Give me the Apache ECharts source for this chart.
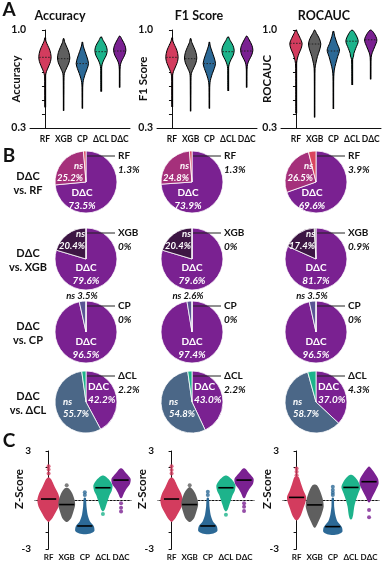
<!DOCTYPE html>
<html>
<head>
<meta charset="utf-8">
<script src="https://cdn.jsdelivr.net/npm/echarts@6.0.0/dist/echarts.min.js"></script>
<style>
  html, body { margin: 0; padding: 0; background: #fff; }
  #chart { width: 386px; height: 565px; }
</style>
</head>
<body>
<div id="chart"></div>
<script>
const CATS = ['RF', 'XGB', 'CP', 'ΔCL', 'DΔC'];
const COLORS = ['#d33c5e', '#5f5f5f', '#2c6996', '#1db38b', '#7a2191'];
const METRICS = ['Accuracy', 'F1 Score', 'ROCAUC'];

// A: violin outlines, [score, relative density] from top to bottom
const accProfiles = [
  [[0.945, 0], [0.92, 0.15], [0.89, 0.45], [0.855, 0.8], [0.81, 1], [0.775, 0.9], [0.745, 0.65], [0.715, 0.35], [0.69, 0.15], [0.665, 0.05], [0.6, 0.03], [0.448, 0]],
  [[0.94, 0], [0.91, 0.2], [0.875, 0.55], [0.84, 0.85], [0.8, 1], [0.765, 0.85], [0.735, 0.55], [0.71, 0.3], [0.69, 0.12], [0.66, 0.05], [0.55, 0.03], [0.424, 0]],
  [[0.915, 0], [0.885, 0.15], [0.845, 0.45], [0.8, 0.8], [0.76, 1], [0.725, 0.8], [0.69, 0.5], [0.655, 0.25], [0.625, 0.1], [0.59, 0.04], [0.52, 0.03], [0.44, 0]],
  [[0.952, 0], [0.925, 0.35], [0.89, 0.8], [0.855, 1], [0.82, 0.85], [0.79, 0.5], [0.765, 0.25], [0.74, 0.1], [0.71, 0.04], [0.65, 0.03], [0.56, 0]],
  [[0.957, 0], [0.93, 0.4], [0.89, 0.85], [0.855, 1], [0.82, 0.8], [0.79, 0.45], [0.765, 0.2], [0.74, 0.08], [0.7, 0.03], [0.59, 0]]
];
const f1Profiles = [
  [[0.945, 0], [0.92, 0.15], [0.89, 0.45], [0.855, 0.8], [0.81, 1], [0.775, 0.9], [0.745, 0.65], [0.715, 0.35], [0.69, 0.15], [0.665, 0.05], [0.6, 0.03], [0.45, 0]],
  [[0.94, 0], [0.91, 0.2], [0.875, 0.55], [0.84, 0.85], [0.8, 1], [0.765, 0.85], [0.735, 0.55], [0.71, 0.3], [0.69, 0.12], [0.66, 0.05], [0.55, 0.03], [0.42, 0]],
  [[0.915, 0], [0.885, 0.15], [0.845, 0.45], [0.8, 0.8], [0.76, 1], [0.725, 0.8], [0.69, 0.5], [0.655, 0.25], [0.625, 0.1], [0.59, 0.04], [0.52, 0.03], [0.44, 0]],
  [[0.952, 0], [0.925, 0.35], [0.89, 0.8], [0.855, 1], [0.82, 0.85], [0.79, 0.5], [0.765, 0.25], [0.74, 0.1], [0.71, 0.04], [0.65, 0.03], [0.565, 0]],
  [[0.957, 0], [0.93, 0.4], [0.89, 0.85], [0.855, 1], [0.82, 0.8], [0.79, 0.45], [0.765, 0.2], [0.74, 0.08], [0.7, 0.03], [0.59, 0]]
];
const rocProfiles = [
  [[1.0, 0], [0.976, 0.3], [0.94, 0.7], [0.905, 1], [0.869, 0.85], [0.833, 0.5], [0.8, 0.25], [0.762, 0.08], [0.69, 0.03], [0.405, 0]],
  [[1.0, 0], [0.976, 0.3], [0.94, 0.75], [0.9, 1], [0.857, 0.8], [0.81, 0.45], [0.762, 0.2], [0.726, 0.06], [0.65, 0.03], [0.376, 0]],
  [[0.993, 0], [0.952, 0.25], [0.905, 0.6], [0.857, 1], [0.81, 0.7], [0.762, 0.4], [0.714, 0.15], [0.667, 0.05], [0.6, 0.03], [0.436, 0]],
  [[1.0, 0], [0.976, 0.5], [0.921, 1], [0.869, 0.6], [0.833, 0.3], [0.814, 0.25], [0.79, 0.08], [0.72, 0.03], [0.607, 0]],
  [[1.0, 0], [0.976, 0.55], [0.929, 1], [0.881, 0.65], [0.838, 0.25], [0.805, 0.07], [0.74, 0.03], [0.648, 0]]
];
const accMedians = [0.805, 0.795, 0.76, 0.845, 0.85];
const f1Medians = [0.805, 0.795, 0.76, 0.845, 0.85];
const rocMedians = [0.905, 0.9, 0.85, 0.92, 0.93];

// B: share of pairwise tests, [DΔC better, ns, other better]
const PIE_ROWS = ['RF', 'XGB', 'CP', 'ΔCL'];
const pieAcc = [[73.5, 25.2, 1.3], [79.6, 20.4, 0], [96.5, 3.5, 0], [42.2, 55.7, 2.2]];
const pieF1 = [[73.9, 24.8, 1.3], [79.6, 20.4, 0], [97.4, 2.6, 0], [43.0, 54.8, 2.2]];
const pieRoc = [[69.6, 26.5, 3.9], [81.7, 17.4, 0.9], [96.5, 3.5, 0], [37.0, 58.7, 4.3]];
const NS_COLORS = ['#a5307b', '#3d1644', '#5a5494', '#4b6787'];
const OTHER_COLORS = ['#d9455f', '#9a9a9a', '#2c6996', '#1db38b'];

// C: swarm envelopes [z, relative width], medians and lone points [category, z]
const zAccProfiles = [
  [[1.4, 0], [1.3, 0.2], [1.1, 0.35], [0.8, 0.55], [0.4, 0.85], [0, 1], [-0.4, 0.9], [-0.8, 0.6], [-1.1, 0.35], [-1.3, 0.1], [-1.35, 0]],
  [[0.75, 0], [0.7, 0.2], [0.4, 0.5], [0, 0.7], [-0.3, 0.75], [-0.7, 0.6], [-1.1, 0.4], [-1.3, 0.15], [-1.35, 0]],
  [[0.15, 0], [0.1, 0.1], [-0.4, 0.15], [-0.9, 0.25], [-1.3, 0.45], [-1.6, 0.8], [-1.9, 0.85], [-2.05, 0.5], [-2.1, 0]],
  [[1.5, 0], [1.45, 0.2], [1.2, 0.6], [0.9, 0.85], [0.6, 0.8], [0.3, 0.6], [0, 0.45], [-0.3, 0.3], [-0.6, 0.15], [-0.7, 0]],
  [[1.95, 0], [1.9, 0.15], [1.6, 0.5], [1.3, 0.85], [1.0, 0.8], [0.7, 0.5], [0.4, 0.25], [0.15, 0.1], [0.1, 0]]
];
const zF1Profiles = [
  [[1.4, 0], [1.3, 0.2], [1.1, 0.35], [0.8, 0.55], [0.4, 0.85], [0, 1], [-0.4, 0.9], [-0.8, 0.6], [-1.1, 0.35], [-1.3, 0.1], [-1.35, 0]],
  [[0.8, 0], [0.7, 0.2], [0.4, 0.5], [0, 0.7], [-0.3, 0.75], [-0.7, 0.6], [-1.1, 0.4], [-1.3, 0.15], [-1.35, 0]],
  [[0.15, 0], [0.1, 0.1], [-0.4, 0.15], [-0.9, 0.25], [-1.3, 0.45], [-1.6, 0.8], [-1.9, 0.85], [-2.05, 0.5], [-2.1, 0]],
  [[1.5, 0], [1.45, 0.2], [1.2, 0.6], [0.9, 0.85], [0.6, 0.8], [0.3, 0.6], [0, 0.45], [-0.3, 0.3], [-0.6, 0.15], [-0.7, 0]],
  [[1.95, 0], [1.9, 0.15], [1.6, 0.5], [1.3, 0.85], [1.0, 0.8], [0.7, 0.5], [0.4, 0.25], [0.15, 0.1], [0.1, 0]]
];
const zRocProfiles = [
  [[1.45, 0], [1.4, 0.2], [1.0, 0.4], [0.6, 0.6], [0.2, 0.85], [-0.1, 0.8], [-0.5, 0.6], [-0.9, 0.4], [-1.2, 0.15], [-1.25, 0]],
  [[0.95, 0], [0.9, 0.2], [0.6, 0.45], [0.1, 0.7], [-0.4, 0.8], [-0.9, 0.6], [-1.3, 0.35], [-1.65, 0.1], [-1.7, 0]],
  [[0.15, 0], [0.1, 0.1], [-0.4, 0.12], [-0.9, 0.22], [-1.3, 0.4], [-1.65, 0.8], [-1.95, 0.85], [-2.1, 0.5], [-2.15, 0]],
  [[1.55, 0], [1.5, 0.2], [1.2, 0.6], [0.8, 0.85], [0.4, 0.65], [0, 0.45], [-0.4, 0.3], [-0.9, 0.2], [-1.15, 0.1], [-1.2, 0]],
  [[2.05, 0], [2.0, 0.1], [1.7, 0.45], [1.3, 0.8], [1.0, 0.85], [0.6, 0.6], [0.2, 0.3], [-0.1, 0.1], [-0.15, 0]]
];
const zAccMedians = [0.06, -0.28, -1.59, 0.75, 1.22];
const zF1Medians = [0.06, -0.28, -1.59, 0.75, 1.22];
const zRocMedians = [0.16, -0.3, -1.63, 0.77, 1.12];
const zAccOutliers = [[0, 2.07], [0, 1.87], [0, 1.63], [1, 0.91], [2, 0.47], [2, 0.3], [3, -0.85], [4, -0.2], [4, -0.47], [4, -0.71]];
const zF1Outliers = [[0, 2.07], [0, 1.83], [0, 1.63], [1, 0.91], [2, 0.51], [2, 0.3], [3, -0.91], [4, -0.2], [4, -0.41], [4, -0.67]];
const zRocOutliers = [[0, 1.93], [0, 1.73], [0, 1.52], [2, 0.81], [2, 0.61], [2, 0.45], [2, 0.3], [4, -0.61], [4, -1.06]];

// layout
const A_LEFT = [30, 157, 281], A_TOP = 30, A_H = 98, A_W = 100;
const C_LEFT = [35, 158, 283], C_TOP = 451, C_H = 98, C_W = 96;
const PIE_X = [86, 192, 316], PIE_Y = [182, 259, 332, 402], PIE_R = 31;
const TITLE_X = [60, 199, 324];
const VIOLIN_HALF = 0.33, SWARM_HALF = 0.62;
const FONT = 'Lato';
const INK = '#111';

function outline(api, i, prof, half) {
  const right = prof.map(([v, d]) => api.coord([i + d * half, v]));
  const left = prof.slice(1, -1).reverse().map(([v, d]) => api.coord([i - d * half, v]));
  return right.concat(left);
}

function widthAt(prof, v) {
  for (let k = 0; k < prof.length - 1; k++) {
    const [v0, d0] = prof[k], [v1, d1] = prof[k + 1];
    if (v <= v0 && v >= v1) return d0 + (d1 - d0) * (v0 - v) / (v0 - v1);
  }
  return 0;
}

// thin whisker running through each violin, from its highest to its lowest score
function tailSeries(g, profiles) {
  return {
    type: 'lines', coordinateSystem: 'cartesian2d', xAxisIndex: g, yAxisIndex: g,
    silent: true, z: 1, polyline: false,
    lineStyle: { color: '#000', width: 1.3, opacity: 1 },
    data: profiles.map((p, i) => ({ coords: [[i, p[0][0]], [i, p[p.length - 1][0]]] }))
  };
}

function violinSeries(g, profiles, medians) {
  return {
    type: 'custom', xAxisIndex: g, yAxisIndex: g, silent: true, clip: false, z: 2,
    data: medians.map((m, i) => [i, m]),
    renderItem(params, api) {
      const i = params.dataIndex;
      const prof = profiles[i];
      const m = api.value(1);
      const w = widthAt(prof, m) * VIOLIN_HALF * 0.95;
      const a = api.coord([i - w, m]), b = api.coord([i + w, m]);
      return {
        type: 'group',
        children: [
          { type: 'polygon', shape: { points: outline(api, i, prof, VIOLIN_HALF), smooth: 0.3 },
            style: { fill: COLORS[i], stroke: '#000', lineWidth: 1 } },
          { type: 'line', shape: { x1: a[0], y1: a[1], x2: b[0], y2: b[1] },
            style: { stroke: '#222', lineWidth: 1, lineDash: [1.5, 1.5] } }
        ]
      };
    }
  };
}

function swarmSeries(g, profiles, medians) {
  return {
    type: 'custom', xAxisIndex: g, yAxisIndex: g, silent: true, clip: false, z: 10,
    data: medians.map((m, i) => [i, m]),
    renderItem(params, api) {
      const i = params.dataIndex;
      const a = api.coord([i - 0.42, api.value(1)]), b = api.coord([i + 0.42, api.value(1)]);
      return {
        type: 'group',
        children: [
          { type: 'polygon', shape: { points: outline(api, i, profiles[i], SWARM_HALF), smooth: 0.25 },
            style: { fill: COLORS[i] } },
          { type: 'line', z2: 5, shape: { x1: a[0], y1: a[1], x2: b[0], y2: b[1] },
            style: { stroke: '#000', lineWidth: 1.6 } }
        ]
      };
    },
    markLine: {
      silent: true, symbol: 'none', label: { show: false },
      lineStyle: { color: '#8a8a8a', type: [1.5, 2], width: 1.2 },
      data: [{ yAxis: 0 }]
    }
  };
}

function outlierSeries(g, pts) {
  return {
    type: 'scatter', xAxisIndex: g, yAxisIndex: g, silent: true, z: 11,
    symbolSize: 4,
    data: pts,
    itemStyle: { color: p => COLORS[p.value[0]] }
  };
}

const grids = [], xAxes = [], yAxes = [];
const labelStyle = { fontFamily: FONT, fontWeight: 'bold', color: INK };
const axisLine = { show: true, lineStyle: { color: INK, width: 1 } };

A_LEFT.forEach((left, i) => {
  grids.push({ left, top: A_TOP, width: A_W, height: A_H });
  xAxes.push({
    gridIndex: i, type: 'value', min: -0.8, max: 4.55,
    axisLine, axisTick: { show: false }, splitLine: { show: false },
    axisLabel: Object.assign({ customValues: [0, 1, 2, 3, 4], formatter: v => CATS[Math.round(v)], fontSize: 8.5, margin: 7 }, labelStyle)
  });
  yAxes.push({
    gridIndex: i, type: 'value', min: 0.3, max: 1.0, interval: 0.1,
    name: METRICS[i], nameLocation: 'middle', nameGap: 8, nameMoveOverlap: false,
    nameTextStyle: Object.assign({ fontSize: 11.5 }, labelStyle),
    axisLine, axisTick: { show: true, length: 3, lineStyle: { color: INK } },
    splitLine: { show: false },
    axisLabel: Object.assign({ customValues: [0.3, 1.0], formatter: v => v.toFixed(1), fontSize: 10.5, margin: 4 }, labelStyle)
  });
});
C_LEFT.forEach((left, i) => {
  grids.push({ left, top: C_TOP, width: C_W, height: C_H });
  xAxes.push({
    gridIndex: 3 + i, type: 'value', min: -0.75, max: 4.55,
    axisLine, axisTick: { show: false }, splitLine: { show: false },
    axisLabel: Object.assign({ customValues: [0, 1, 2, 3, 4], formatter: v => CATS[Math.round(v)], fontSize: 8, margin: 4 }, labelStyle)
  });
  yAxes.push({
    gridIndex: 3 + i, type: 'value', min: -3, max: 3, interval: 1,
    name: 'Z-Score', nameLocation: 'middle', nameGap: 10, nameMoveOverlap: false,
    nameTextStyle: Object.assign({ fontSize: 11.5, padding: [0, 0, 0, 22] }, labelStyle),
    axisLine, axisTick: { show: true, length: 3, lineStyle: { color: INK } },
    splitLine: { show: false },
    axisLabel: Object.assign({ customValues: [-3, 3], fontSize: 10, margin: 4 }, labelStyle)
  });
});

const series = [
  tailSeries(0, accProfiles),
  tailSeries(1, f1Profiles),
  tailSeries(2, rocProfiles),
  violinSeries(0, accProfiles, accMedians),
  violinSeries(1, f1Profiles, f1Medians),
  violinSeries(2, rocProfiles, rocMedians),
  swarmSeries(3, zAccProfiles, zAccMedians),
  swarmSeries(4, zF1Profiles, zF1Medians),
  swarmSeries(5, zRocProfiles, zRocMedians),
  outlierSeries(3, zAccOutliers),
  outlierSeries(4, zF1Outliers),
  outlierSeries(5, zRocOutliers)
];

const pct = v => v === 0 ? '0%' : v.toFixed(1) + '%';
const graphics = [];
function T(text, x, y, font, align, fill) {
  graphics.push({
    type: 'text', x, y, z: 100, silent: true,
    style: { text, font: font + ' ' + FONT, fill: fill || INK, textAlign: align || 'center', textVerticalAlign: 'middle' }
  });
}

// label placement per comparison row, relative to pie centre
const PIE_LABELS = [
  { main: [-4, 11, 'center'], ns: [-3, -16, 'right'] },
  { main: [0, 9, 'center'], ns: [-1, -25, 'right'] },
  { main: [0, 10, 'center'], ns: null },
  { main: [2, -15, 'left'], ns: [-23, 0, 'left'] }
];

[pieAcc, pieF1, pieRoc].forEach((tbl, c) => {
  tbl.forEach((vals, r) => {
    const cx = PIE_X[c], cy = PIE_Y[r];
    series.push({
      type: 'pie', center: [cx, cy], radius: PIE_R, startAngle: 90, clockwise: true,
      silent: true, label: { show: false }, labelLine: { show: false },
      itemStyle: { borderColor: '#fff', borderWidth: 0.8 },
      data: [
        { name: 'DΔC', value: vals[0], itemStyle: { color: COLORS[4] } },
        { name: 'ns', value: vals[1], itemStyle: { color: NS_COLORS[r] } },
        { name: PIE_ROWS[r], value: vals[2], itemStyle: { color: OTHER_COLORS[r] } }
      ]
    });
    const L = PIE_LABELS[r];
    T('DΔC', cx + L.main[0], cy + L.main[1], 'bold 10px', L.main[2], '#fff');
    T(pct(vals[0]), cx + L.main[0], cy + L.main[1] + 12.5, 'italic bold 10px', L.main[2], '#fff');
    if (L.ns) {
      T('ns', cx + L.ns[0], cy + L.ns[1], 'italic bold 9.5px', L.ns[2], '#fff');
      T(pct(vals[1]), cx + L.ns[0], cy + L.ns[1] + 11.5, 'italic bold 9.5px', L.ns[2], '#fff');
    } else {
      T('ns ' + pct(vals[1]), cx - 4, cy - 36, 'italic bold 9.5px', 'center');
    }
    graphics.push({
      type: 'line', z: 100, silent: true,
      shape: { x1: cx + 1, y1: cy - 26, x2: cx + 29, y2: cy - 26 },
      style: { stroke: '#222', lineWidth: 1 }
    });
    T(PIE_ROWS[r], cx + 32, cy - 26, 'bold 10px', 'left');
    T(pct(vals[2]), cx + 32, cy - 12.5, 'italic bold 10px', 'left');
  });
});

PIE_ROWS.forEach((name, r) => {
  T('DΔC', 28, PIE_Y[r] - 6, 'bold 11px');
  T('vs. ' + name, 28, PIE_Y[r] + 8, 'bold 11px');
});
METRICS.forEach((m, i) => T(m, TITLE_X[i], 16, 'bold 12.5px'));
T('A', 9, 10, 'bold 19px');
T('B', 9, 156, 'bold 19px');
T('C', 9, 441, 'bold 19px');

const chart = echarts.init(document.getElementById('chart'), null, { renderer: 'canvas' });
chart.setOption({
  animation: false,
  backgroundColor: '#fff',
  textStyle: { fontFamily: FONT },
  grid: grids,
  xAxis: xAxes,
  yAxis: yAxes,
  series,
  graphic: graphics
});
window.addEventListener('resize', () => chart.resize());
</script>
</body>
</html>
